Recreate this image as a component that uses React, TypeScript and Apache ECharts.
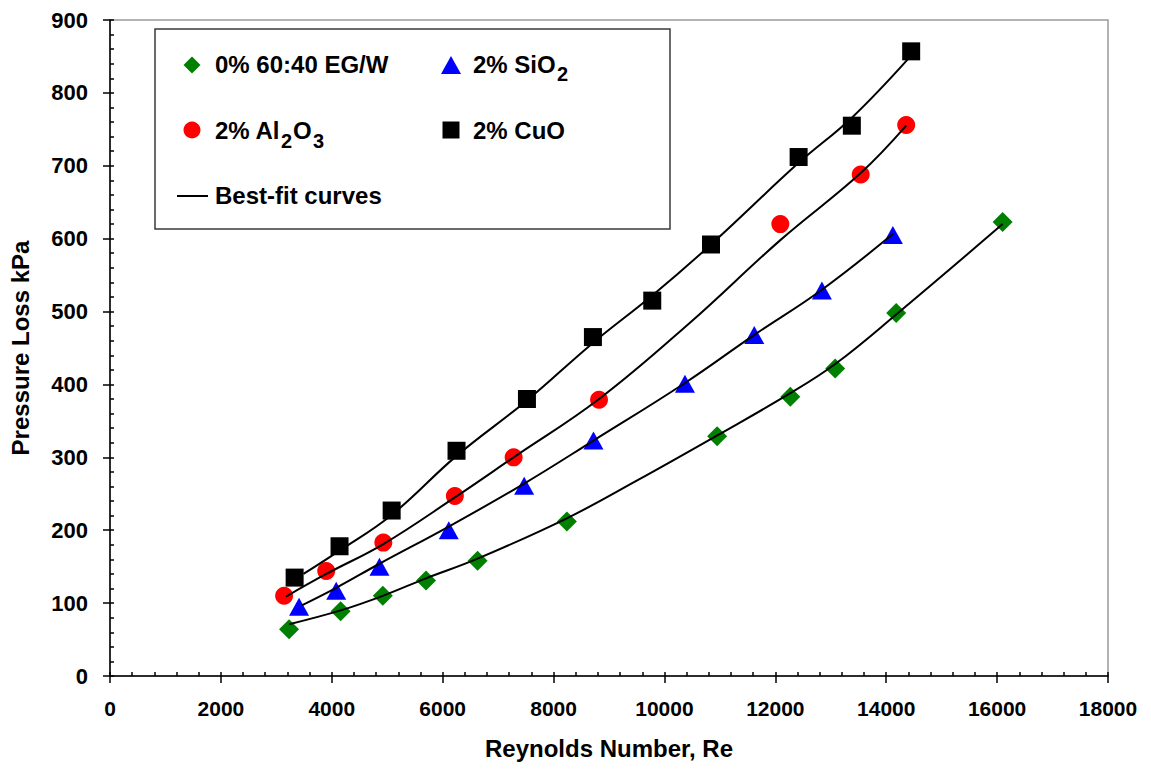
import React, { useEffect, useRef } from "react";
import * as echarts from "echarts";

// Measured pressure loss (kPa) vs Reynolds number for each fluid
const baseRe = [3230, 4160, 4920, 5700, 6630, 8240, 10950, 12270, 13080, 14180, 16100];
const baseDp = [64, 89, 110, 131, 158, 212, 329, 383, 422, 498, 623];

const sio2Re = [3410, 4080, 4860, 6110, 7470, 8720, 10370, 11620, 12840, 14120];
const sio2Dp = [95, 117, 150, 200, 261, 323, 401, 468, 529, 605];

const al2o3Re = [3140, 3900, 4930, 6220, 7280, 8820, 12090, 13540, 14360];
const al2o3Dp = [110, 144, 183, 247, 300, 379, 620, 688, 756];

const cuoRe = [3330, 4140, 5080, 6250, 7520, 8710, 9780, 10840, 12420, 13380, 14450];
const cuoDp = [135, 178, 227, 309, 380, 465, 515, 592, 712, 755, 857];

// Best-fit curves traced along each data set
const baseFitRe = [3230, 4160, 4920, 5700, 6630, 8230, 9500, 10950, 12270, 13080, 14180, 16100];
const baseFitDp = [71, 90, 110, 134, 161, 216, 268, 330, 388, 428, 496, 620];

const sio2FitRe = [3460, 4080, 4860, 6110, 7470, 8720, 10370, 11620, 12840, 14130];
const sio2FitDp = [97, 121, 154, 205, 264, 323, 402, 468, 530, 607];

const al2o3FitRe = [3175, 3900, 4930, 6220, 7280, 8820, 10450, 12090, 13540, 14360];
const al2o3FitDp = [109, 140, 181, 245, 300, 380, 484, 598, 690, 755];

const cuoFitRe = [3490, 4140, 5080, 6250, 7520, 8710, 9780, 10840, 12420, 13380, 14400];
const cuoFitDp = [140, 172, 221, 302, 378, 457, 522, 592, 704, 766, 847];

const xTicks = { min: 0, max: 18000, interval: 2000 };
const yTicks = { min: 0, max: 900, interval: 100 };

const seriesNames = ["0% 60:40 EG/W", "2% SiO2", "2% Al2O3", "2% CuO"];

const pairs = (xs: number[], ys: number[]) => xs.map((x, i) => [x, ys[i]]);

const SANS = "'Liberation Sans', Arial, Helvetica, sans-serif";

function legendText(x: number, y: number, text: string, size = 24) {
  return {
    type: "text",
    x,
    y,
    style: {
      text,
      fill: "#000",
      font: `bold ${size}px ${SANS}`,
      verticalAlign: "middle",
      align: "left",
    },
    z: 100,
  };
}

export default function App() {
  const ref = useRef<HTMLDivElement>(null);

  useEffect(() => {
    if (!ref.current) return;
    const chart = echarts.init(ref.current, undefined, { renderer: "svg" });

    const scatter = (name: string, xs: number[], ys: number[], symbol: string, size: number | number[], color: string) => ({
      name,
      type: "scatter",
      data: pairs(xs, ys),
      symbol,
      symbolSize: size,
      itemStyle: { color, opacity: 1 },
      z: 2,
    });

    const fit = (xs: number[], ys: number[]) => ({
      type: "line",
      data: pairs(xs, ys),
      showSymbol: false,
      symbol: "none",
      smooth: 0.4,
      lineStyle: { color: "#000", width: 2 },
      z: 3,
    });

    const tickLine = { color: "#000", width: 1.5 };

    const option = {
      animation: false,
      backgroundColor: "#fff",
      grid: {
        left: 110,
        top: 20,
        width: 998,
        height: 656,
        show: true,
        borderColor: "#9a9a9a",
        borderWidth: 1.5,
        backgroundColor: "transparent",
      },
      xAxis: [
        {
          type: "value",
          ...xTicks,
          name: "Reynolds Number, Re",
          nameLocation: "middle",
          nameGap: 60,
          nameTextStyle: { fontFamily: SANS, fontWeight: "bold", fontSize: 24, color: "#000" },
          axisLine: { lineStyle: tickLine },
          axisTick: { length: 7, lineStyle: tickLine },
          splitLine: { show: false },
          axisLabel: {
            fontFamily: SANS,
            fontWeight: "bold",
            fontSize: 21,
            color: "#000",
            margin: 22,
            formatter: (v: number) => String(v),
          },
        },
        {
          type: "value",
          ...xTicks,
          position: "bottom",
          axisLine: { show: false },
          axisLabel: { show: false },
          axisTick: { inside: true, length: 4, lineStyle: tickLine },
          minorTick: { show: true, splitNumber: 5, length: 4, lineStyle: tickLine },
          splitLine: { show: false },
        },
      ],
      yAxis: [
        {
          type: "value",
          ...yTicks,
          name: "Pressure Loss kPa",
          nameLocation: "middle",
          nameGap: 78,
          nameTextStyle: { fontFamily: SANS, fontWeight: "bold", fontSize: 24, color: "#000" },
          axisLine: { lineStyle: tickLine },
          axisTick: { length: 7, lineStyle: tickLine },
          splitLine: { show: false },
          axisLabel: { fontFamily: SANS, fontWeight: "bold", fontSize: 22, color: "#000", margin: 22 },
        },
        {
          type: "value",
          ...yTicks,
          position: "left",
          axisLine: { show: false },
          axisLabel: { show: false },
          axisTick: { inside: true, length: 4, lineStyle: tickLine },
          minorTick: { show: true, splitNumber: 5, length: 4, lineStyle: tickLine },
          splitLine: { show: false },
        },
      ],
      series: [
        scatter(seriesNames[0], baseRe, baseDp, "diamond", 20, "#008000"),
        scatter(seriesNames[1], sio2Re, sio2Dp, "triangle", [20, 18], "#0000ff"),
        scatter(seriesNames[2], al2o3Re, al2o3Dp, "circle", 18, "#ff0000"),
        scatter(seriesNames[3], cuoRe, cuoDp, "rect", 18, "#000000"),
        fit(baseFitRe, baseFitDp),
        fit(sio2FitRe, sio2FitDp),
        fit(al2o3FitRe, al2o3FitDp),
        fit(cuoFitRe, cuoFitDp),
      ],
      graphic: [
        {
          type: "rect",
          shape: { x: 155, y: 29, width: 515, height: 200 },
          style: { fill: "#fff", stroke: "#3a3a3a", lineWidth: 1.5 },
          z: 90,
        },
        // row 1
        {
          type: "polygon",
          shape: { points: [[192, 56.5], [200.5, 65], [192, 73.5], [183.5, 65]] },
          style: { fill: "#008000" },
          z: 100,
        },
        legendText(215, 64, "0% 60:40 EG/W"),
        {
          type: "polygon",
          shape: { points: [[451, 56], [461, 74], [441, 74]] },
          style: { fill: "#0000ff" },
          z: 100,
        },
        legendText(473, 64, "2% SiO"),
        legendText(557, 74, "2", 20),
        // row 2
        {
          type: "circle",
          shape: { cx: 192, cy: 130, r: 8.5 },
          style: { fill: "#ff0000" },
          z: 100,
        },
        legendText(215, 130, "2% Al"),
        legendText(281, 141, "2", 20),
        legendText(293, 130, "O"),
        legendText(313, 141, "3", 20),
        {
          type: "rect",
          shape: { x: 442.5, y: 121.5, width: 17, height: 17 },
          style: { fill: "#000" },
          z: 100,
        },
        legendText(473, 130, "2% CuO"),
        // row 3
        {
          type: "line",
          shape: { x1: 177, y1: 196, x2: 208, y2: 196 },
          style: { stroke: "#000", lineWidth: 2 },
          z: 100,
        },
        legendText(215, 195, "Best-fit curves"),
      ],
    };

    chart.setOption(option as any);
    return () => chart.dispose();
  }, []);

  return (
    <div
      ref={ref}
      style={{ position: "fixed", left: 0, top: 0, width: 1151, height: 771, background: "#fff" }}
    />
  );
}
